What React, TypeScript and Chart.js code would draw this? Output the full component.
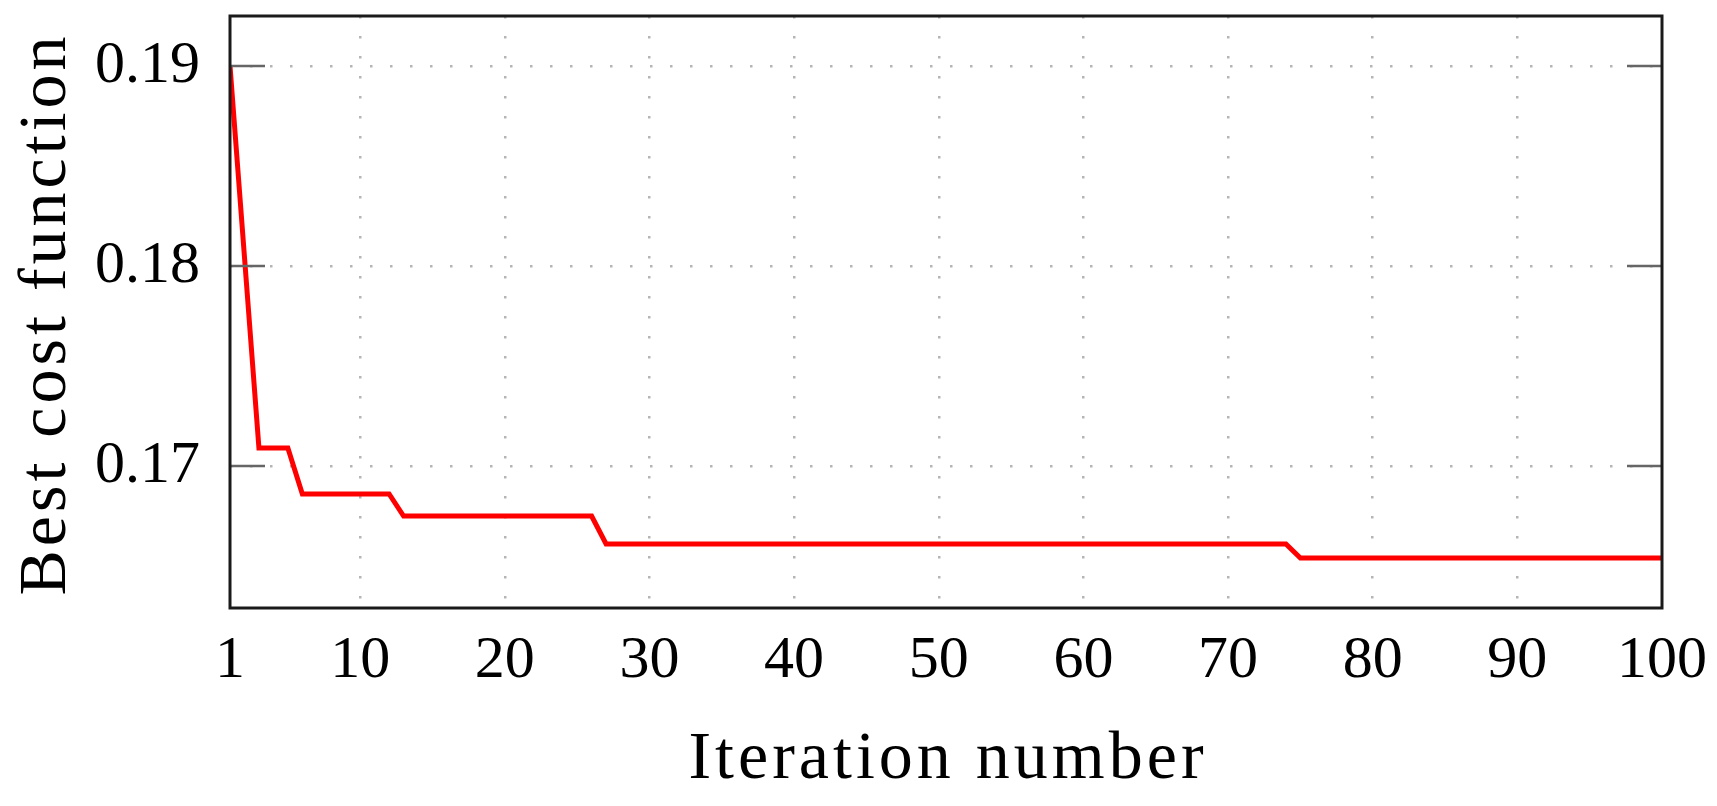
import React, { useEffect, useRef } from "react";
import { Chart, registerables } from "chart.js";

Chart.register(...registerables);

const iterations = [1, 3, 5, 6, 12, 13, 26, 27, 74, 75, 100];
const bestCost = [0.19, 0.1709, 0.1709, 0.1686, 0.1686, 0.1675, 0.1675, 0.1661, 0.1661, 0.1654, 0.1654];
const xTicks = [1, 10, 20, 30, 40, 50, 60, 70, 80, 90, 100];
const yTicks = [0.17, 0.18, 0.19];
const xTitle = "Iteration number";
const yTitle = "Best cost function";

const FONT = "'Liberation Serif', 'Times New Roman', serif";

const framePlugin = {
  id: "frame",
  afterDraw(chart: any) {
    const { ctx, chartArea } = chart;
    const { left, right, top, bottom } = chartArea;
    const yScale = chart.scales.y;
    ctx.save();
    // inward tick marks on left & right
    ctx.strokeStyle = "#666666";
    ctx.lineWidth = 2.5;
    for (const v of yTicks) {
      const py = yScale.getPixelForValue(v);
      ctx.beginPath();
      ctx.moveTo(left, py);
      ctx.lineTo(left + 35, py);
      ctx.moveTo(right, py);
      ctx.lineTo(right - 35, py);
      ctx.stroke();
    }
    // frame
    ctx.strokeStyle = "#1a1a1a";
    ctx.lineWidth = 3;
    ctx.strokeRect(left, top, right - left, bottom - top);
    // titles
    ctx.fillStyle = "#000";
    ctx.font = `68px ${FONT}`;
    (ctx as any).letterSpacing = "4px";
    ctx.textAlign = "center";
    ctx.textBaseline = "alphabetic";
    ctx.fillText(xTitle, (left + right) / 2 + 2, 778);
    ctx.translate(65, (top + bottom) / 2 + 2);
    ctx.rotate(-Math.PI / 2);
    ctx.fillText(yTitle, 0, 0);
    ctx.restore();
  },
};

export default function App() {
  const ref = useRef<HTMLCanvasElement>(null);
  useEffect(() => {
    if (!ref.current) return;
    const chart = new Chart(ref.current, {
      type: "line",
      data: {
        datasets: [
          {
            data: iterations.map((x, i) => ({ x, y: bestCost[i] })),
            borderColor: "#ff0000",
            borderWidth: 5,
            pointRadius: 0,
            tension: 0,
            fill: false,
          },
        ],
      },
      options: {
        animation: false,
        responsive: false,
        maintainAspectRatio: false,
        layout: { padding: { left: 0, right: 55, top: 16, bottom: 0 } },
        plugins: { legend: { display: false }, tooltip: { enabled: false } },
        scales: {
          x: {
            type: "linear",
            min: 1,
            max: 100,
            afterBuildTicks: (s: any) => {
              s.ticks = xTicks.map((v) => ({ value: v }));
            },
            afterFit: (s: any) => {
              s.height = 198;
              s.paddingLeft = 0;
              s.paddingRight = 0;
            },
            ticks: {
              autoSkip: false,
              maxRotation: 0,
              padding: 17,
              color: "#000",
              font: { family: FONT, size: 60 },
              callback: (v: any) => String(v),
            },
            grid: {
              drawTicks: false,
              lineWidth: 2.5,
              color: (c: any) =>
                c.tick && (c.tick.value === 1 || c.tick.value === 100) ? "rgba(0,0,0,0)" : "#b5b5b5",
            },
            border: { display: false, dash: [2.5, 17.5] } as any,
          },
          y: {
            type: "linear",
            min: 0.1629,
            max: 0.1925,
            afterBuildTicks: (s: any) => {
              s.ticks = yTicks.map((v) => ({ value: v }));
            },
            afterFit: (s: any) => {
              s.width = 230;
              s.paddingTop = 0;
              s.paddingBottom = 0;
            },
            ticks: {
              padding: 30,
              color: "#000",
              font: { family: FONT, size: 60 },
              callback: (v: any) => Number(v).toFixed(2),
            },
            grid: {
              drawTicks: false,
              lineWidth: 2.5,
              color: "#b5b5b5",
            },
            border: { display: false, dash: [2.5, 17.5] } as any,
          },
        },
      },
      plugins: [framePlugin],
    } as any);
    return () => chart.destroy();
  }, []);
  return (
    <div style={{ position: "fixed", left: 0, top: 0, width: 1717, height: 806, background: "#fff" }}>
      <canvas ref={ref} width={1717} height={806} style={{ width: 1717, height: 806 }} />
    </div>
  );
}
